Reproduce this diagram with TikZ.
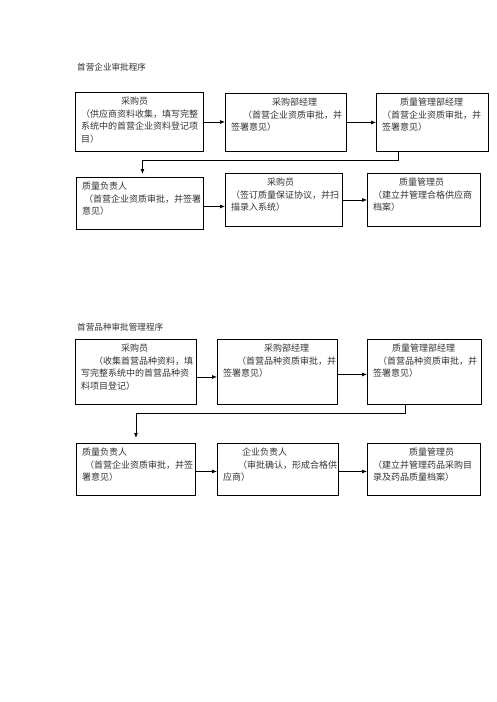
\documentclass[tikz,border=0pt]{standalone}
\usepackage{fontspec}
\newfontfamily\cjk{Noto Sans CJK SC}
\usetikzlibrary{arrows.meta}
\begin{document}
\begin{tikzpicture}[x=1pt,y=1pt,
  box/.style={draw=black, line width=0.9pt, anchor=north west, inner sep=0pt},
  txt/.style={anchor=north west, inner sep=0pt, text width=125pt, align=left,
    text=black!80, font=\cjk\fontsize{9}{12.8}\selectfont},
  ttl/.style={anchor=west, inner sep=0pt, text=black!80, font=\cjk\fontsize{8.6}{10}\selectfont},
  arr/.style={line width=0.7pt, -{Latex[length=5pt,width=4pt]}},
  lnk/.style={line width=0.9pt, -{Latex[length=5pt,width=4pt]}}]
\useasboundingbox (0,0) rectangle (496,-702);
\fill[white] (0,0) rectangle (496,-702);

% ---------- Section 1 ----------
\node[ttl] (t1) at (77,-67) {首营企业审批程序};

\node[box, minimum width=128pt, minimum height=59pt] (a1) at (75,-92) {};
\node[box, minimum width=121pt, minimum height=58pt] (a2) at (225,-93) {};
\node[box, minimum width=112pt, minimum height=58pt] (a3) at (376,-93) {};
\node[box, minimum width=127pt, minimum height=52pt] (b1) at (76,-177) {};
\node[box, minimum width=117pt, minimum height=53pt] (b2) at (225,-173) {};
\node[box, minimum width=113pt, minimum height=53pt] (b3) at (367,-173) {};

\node[txt] (a1t) at ([xshift=6pt,yshift=-4.5pt]a1.north west)
  {\hspace*{40pt}采购员\\（供应商资料收集，填写完整\\系统中的首营企业资料登记项\\目）};
\node[txt] (a2t) at ([xshift=6pt,yshift=-4.5pt]a2.north west)
  {\hspace*{41pt}采购部经理\\\hspace*{12pt}（首营企业资质审批，并\\签署意见）};
\node[txt] (a3t) at ([xshift=6pt,yshift=-4.5pt]a3.north west)
  {\hspace*{18pt}质量管理部经理\\（首营企业资质审批，并\\签署意见）};
\node[txt] (b1t) at ([xshift=6pt,yshift=-4.5pt]b1.north west)
  {质量负责人\\\hspace*{2pt}（首营企业资质审批，并签署\\意见）};
\node[txt] (b2t) at ([xshift=6pt,yshift=-4.5pt]b2.north west)
  {\hspace*{36pt}采购员\\（签订质量保证协议，并扫\\描录入系统）};
\node[txt] (b3t) at ([xshift=6pt,yshift=-4.5pt]b3.north west)
  {\hspace*{26pt}质量管理员\\（建立并管理合格供应商\\档案）};

\draw[arr] (a1.east) -- (a1.east -| a2.west);
\draw[arr] (a2.east) -- (a2.east -| a3.west);
\coordinate (s1) at ([xshift=-34pt]a3.south);
\coordinate (m1) at ([xshift=2.5pt,yshift=3pt]b1.north);
\draw[lnk] (s1) -- ++(0,-9) -| (m1);
\coordinate (e1) at ([yshift=-3pt]b1.east);
\draw[arr] (e1) -- (e1 -| b2.west);
\draw[arr] (b2.east) -- (b2.east -| b3.west);

% ---------- Section 2 ----------
\node[ttl] (t2) at (77,-327) {首营品种审批管理程序};

\node[box, minimum width=121pt, minimum height=65pt] (c1) at (75,-339) {};
\node[box, minimum width=120pt, minimum height=65pt] (c2) at (217,-339) {};
\node[box, minimum width=114pt, minimum height=65pt] (c3) at (367,-339) {};
\node[box, minimum width=119pt, minimum height=52pt] (d1) at (76,-443) {};
\node[box, minimum width=121pt, minimum height=52pt] (d2) at (217,-443) {};
\node[box, minimum width=113pt, minimum height=52pt] (d3) at (367,-443) {};

\node[txt] (c1t) at ([xshift=6pt,yshift=-4.5pt]c1.north west)
  {\hspace*{40pt}采购员\\\hspace*{13pt}（收集首营品种资料，填\\写完整系统中的首营品种资\\料项目登记）};
\node[txt] (c2t) at ([xshift=6pt,yshift=-4.5pt]c2.north west)
  {\hspace*{41pt}采购部经理\\\hspace*{14pt}（首营品种资质审批，并\\签署意见）};
\node[txt] (c3t) at ([xshift=6pt,yshift=-4.5pt]c3.north west)
  {\hspace*{19pt}质量管理部经理\\\hspace*{5pt}（首营品种资质审批，并\\签署意见）};
\node[txt] (d1t) at ([xshift=6pt,yshift=-4.5pt]d1.north west)
  {质量负责人\\\hspace*{3pt}（首营企业资质审批，并签\\署意见）};
\node[txt] (d2t) at ([xshift=6pt,yshift=-4.5pt]d2.north west)
  {\hspace*{19pt}企业负责人\\\hspace*{15pt}（审批确认，形成合格供\\应商）};
\node[txt] (d3t) at ([xshift=6pt,yshift=-4.5pt]d3.north west)
  {\hspace*{36pt}质量管理员\\（建立并管理药品采购目\\录及药品质量档案）};

\coordinate (e2) at ([yshift=-5pt]c1.east);
\draw[arr] (e2) -- (e2 -| c2.west);
\coordinate (e3) at ([yshift=-2.5pt]c2.east);
\draw[arr] (e3) -- (e3 -| c3.west);
\coordinate (s2) at ([xshift=-19pt]c3.south);
\coordinate (m2) at ([yshift=5pt]d1.north);
\draw[lnk] (s2) -- ++(0,-9) -| (m2);
\coordinate (e4) at ([yshift=-2pt]d1.east);
\draw[arr] (e4) -- (e4 -| d2.west);
\draw[arr] (e4 -| d2.east) -- (e4 -| d3.west);
\end{tikzpicture}
\end{document}
